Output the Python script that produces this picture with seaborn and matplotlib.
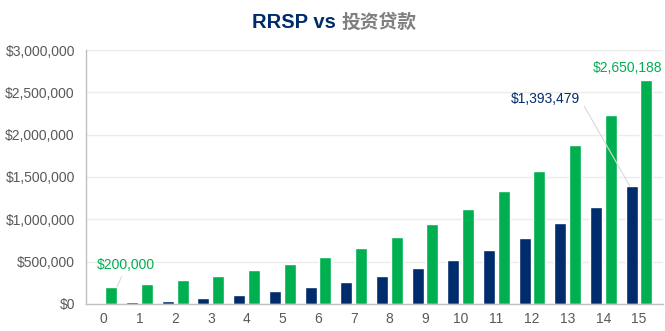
import pandas as pd
import matplotlib
matplotlib.use("Agg")
import matplotlib.pyplot as plt
import seaborn as sns

years = list(range(16))
rrsp = [15000, 18000, 39000, 71000, 106000, 150000, 197000, 263000,
        334000, 420000, 523000, 641000, 783000, 953000, 1150000, 1393479]
loan = [200000, 232000, 280000, 334000, 397000, 472000, 559000, 667000,
        788000, 940000, 1118000, 1331000, 1574000, 1874000, 2229000, 2650188]
yticks = [0, 500000, 1000000, 1500000, 2000000, 2500000, 3000000]

navy = "#002b6c"
green = "#00b050"
grey_txt = "#595959"

df = pd.DataFrame({
    "year": years * 2,
    "value": rrsp + loan,
    "series": ["RRSP"] * len(years) + ["投资贷款"] * len(years),
})

sns.set_style("white")
plt.rcParams["font.family"] = ["Liberation Sans", "Noto Sans CJK SC", "DejaVu Sans"]

fig = plt.figure(figsize=(6.65, 3.31), dpi=100)
ax = fig.add_axes([86 / 665, 1 - 304 / 331, (663 - 86) / 665, (304 - 50) / 331])

sns.barplot(data=df, x="year", y="value", hue="series",
            palette=[navy, green], width=0.83, gap=0.19,
            legend=False, ax=ax, saturation=1)

ax.set_xlim(-0.5, 15.67)
ax.set_ylim(0, 3000000)
ax.set_yticks(yticks)
ax.set_yticklabels([f"${v:,}" for v in yticks])
ax.set_xlabel("")
ax.set_ylabel("")
ax.grid(axis="y", color="#ececec", linewidth=1)
ax.set_axisbelow(True)
for s in ["top", "right"]:
    ax.spines[s].set_visible(False)
for s in ["left", "bottom"]:
    ax.spines[s].set_color("#bfbfbf")
    ax.spines[s].set_linewidth(1)
ax.tick_params(axis="y", length=0, pad=8, labelsize=10, labelcolor=grey_txt)
ax.tick_params(axis="x", length=0, pad=6, labelsize=10, labelcolor=grey_txt)

# value labels
line = dict(arrowstyle="-", color="#d9d9d9", linewidth=0.8, shrinkA=1, shrinkB=0)
ax.annotate(f"${loan[0]:,}", xy=(0 + 0.37, loan[0]), xytext=(6.7, 15.8),
            textcoords="offset points", ha="center", va="center",
            color=green, fontsize=10, arrowprops=line)
ax.annotate(f"${rrsp[-1]:,}", xy=(15 - 0.26, rrsp[-1]), xytext=(-60.5, 62.4),
            textcoords="offset points", ha="center", va="center",
            color=navy, fontsize=10,
            arrowprops=dict(line, relpos=(1, 0.5)))
ax.annotate(f"${loan[-1]:,}", xy=(15 + 0.207, loan[-1]), xytext=(11.3, 8.1),
            textcoords="offset points", ha="right", va="center",
            color=green, fontsize=10, annotation_clip=False)

fig.text(336 / 665, 1 - 27.7 / 331, "RRSP vs", ha="right", va="baseline",
         color=navy, fontsize=14.5, fontweight="bold")
fig.text(341.5 / 665, 1 - 27.7 / 331, "投资贷款", ha="left", va="baseline",
         color="#7f7f7f", fontsize=13.5, fontweight="bold")

fig.savefig("out.png", dpi=100)
